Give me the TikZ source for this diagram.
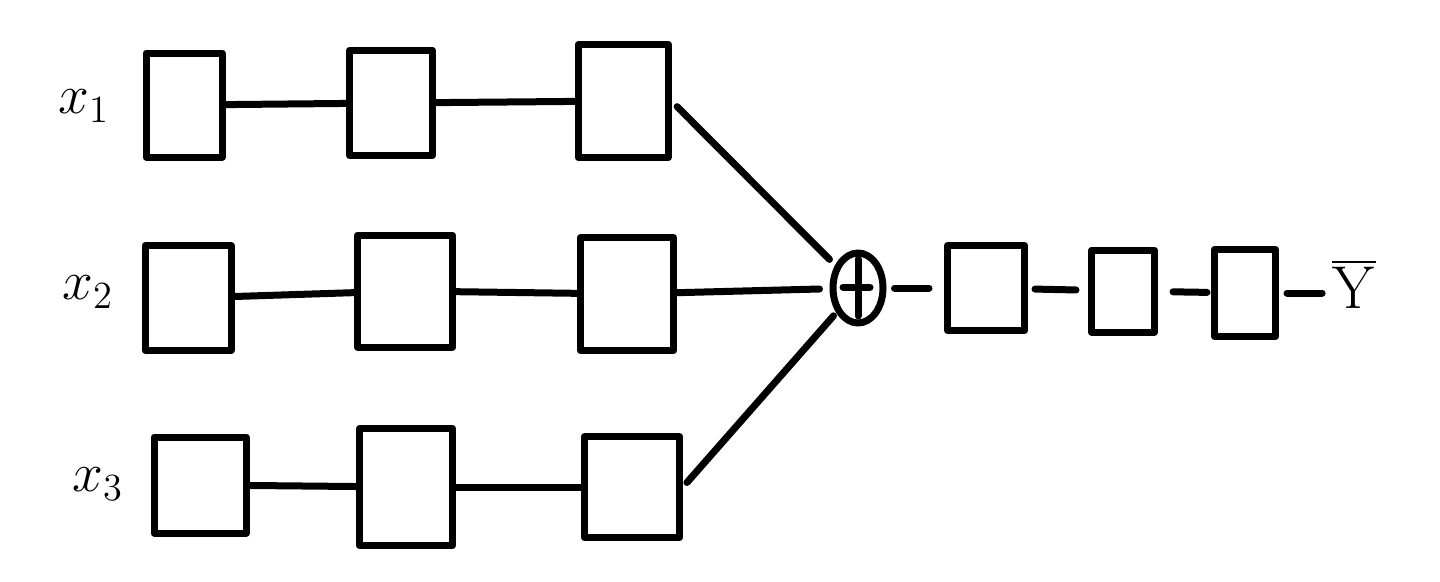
\documentclass[tikz,border=0pt]{standalone}
\usepackage{graphicx}
\usetikzlibrary{shapes.geometric}
\begin{document}
\begin{tikzpicture}[x=1pt,y=-1pt,
  ink/.style={line width=7pt, line cap=round, line join=round},
  blk/.style={draw, ink, rectangle, inner sep=0pt},
  lbl/.style={inner sep=0pt},
  link/.style={ink}]
\fill[white] (0,0) rectangle (1440,581);
\useasboundingbox (0,0) rectangle (1440,581);
% labels
\node[lbl] (x1) at (84,106) {\scalebox{3.2}{\LARGE$x_1$}};
\node[lbl] (x2) at (88,292) {\scalebox{3.2}{\LARGE$x_2$}};
\node[lbl] (x3) at (98,484) {\scalebox{3.2}{\LARGE$x_3$}};
% row 1
\node[blk, minimum width=76pt, minimum height=104pt] (r1a) at (184,105) {};
\node[blk, minimum width=83pt, minimum height=105pt] (r1b) at (391,103) {};
\node[blk, minimum width=90pt, minimum height=113pt] (r1c) at (623,101) {};
% row 2
\node[blk, minimum width=86pt, minimum height=105pt] (r2a) at (188,298) {};
\node[blk, minimum width=95pt, minimum height=112pt] (r2b) at (405,291) {};
\node[blk, minimum width=93pt, minimum height=113pt] (r2c) at (627,294) {};
% row 3
\node[blk, minimum width=92pt, minimum height=96pt] (r3a) at (200,485) {};
\node[blk, minimum width=93pt, minimum height=117pt] (r3b) at (406,487) {};
\node[blk, minimum width=95pt, minimum height=101pt] (r3c) at (632,487) {};
% sum
\node[draw, ink, ellipse, inner sep=0pt, minimum width=50pt, minimum height=70pt] (plus) at (858,288) {};
\draw[ink] ([yshift=29pt]plus.center) -- ([yshift=-28pt]plus.center);
\draw[ink] ([xshift=-15pt,yshift=1pt]plus.center) -- ([xshift=12pt,yshift=1pt]plus.center);
% output chain
\node[blk, minimum width=77pt, minimum height=85pt] (oa) at (986,288) {};
\node[blk, minimum width=63pt, minimum height=82pt] (ob) at (1123,291) {};
\node[blk, minimum width=61pt, minimum height=87pt] (oc) at (1245,293) {};
\node[inner sep=0pt] (y) at (1354,284) {\scalebox{3.5}{\LARGE$\overline{\mathrm{Y}}$}};
% connectors
\draw[link] (r1a) -- (r1b);
\draw[link] (r1b) -- (r1c);
\draw[link] (r2a) -- (r2b);
\draw[link] (r2b) -- (r2c);
\draw[link] (r3a) -- (r3b);
\draw[link] (r3b) -- (r3c);
\draw[link, shorten <=8pt, shorten >=8pt] (r1c.east) -- (plus);
\draw[link, shorten >=10pt] (r2c) -- (plus);
\draw[link, shorten <=6pt, shorten >=4pt] (r3c.east) -- (plus);
\draw[link, shorten <=8pt, shorten >=15pt] (plus) -- (oa);
\draw[link, shorten <=7pt, shorten >=12pt] (oa) -- (ob);
\draw[link, shorten <=15pt, shorten >=4pt] (ob) -- (oc);
\draw[link, shorten <=8pt, shorten >=10pt] (oc) -- (y.west |- oc);
\end{tikzpicture}
\end{document}
